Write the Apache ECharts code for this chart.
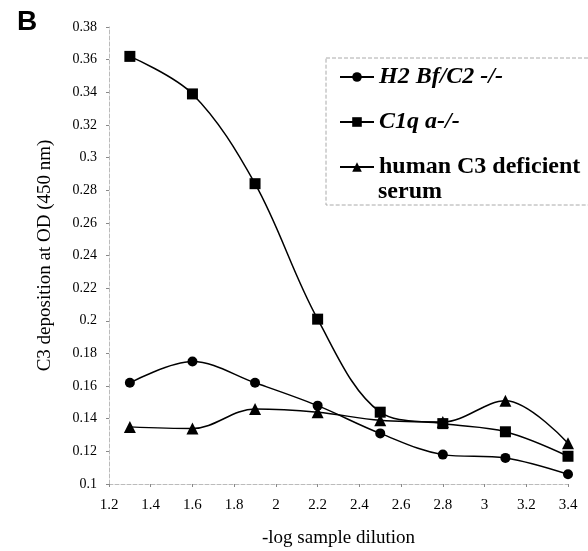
<!DOCTYPE html>
<html><head><meta charset="utf-8">
<script src="https://cdn.jsdelivr.net/npm/echarts@6/dist/echarts.min.js"></script>
<style>html,body{margin:0;padding:0;background:#fff}#c{width:588px;height:551px}</style>
</head><body><div id="c"></div>
<script>
const dilution = [1.3, 1.6, 1.9, 2.2, 2.5, 2.8, 3.1, 3.4];
const h2BfC2 = [0.162, 0.175, 0.162, 0.148, 0.131, 0.118, 0.116, 0.106];
const c1qA = [0.362, 0.339, 0.284, 0.201, 0.144, 0.137, 0.132, 0.117];
const humanC3 = [0.135, 0.134, 0.146, 0.144, 0.139, 0.138, 0.151, 0.125];
const seriesNames = ['H2 Bf/C2 -/-', 'C1q a-/-', 'human C3 deficient serum'];

const serif = '"Liberation Serif", "Times New Roman", serif';
const pts = arr => dilution.map((x, i) => [x, arr[i]]);
const mk = (name, data, symbol, size) => ({
  name, type: 'line', smooth: 0.35, data: pts(data), symbol, symbolSize: size,
  lineStyle: { color: '#000', width: 1.5 }, itemStyle: { color: '#000' }
});

const chart = echarts.init(document.getElementById('c'));
chart.setOption({
  animation: false,
  backgroundColor: '#fff',
  grid: { left: 109, right: 20, top: 27, bottom: 67, containLabel: false, outerBoundsMode: 'none' },
  title: { text: 'B', left: 17, top: 8, padding: 0, textStyle: { fontFamily: '"Liberation Sans", Arial, sans-serif', fontWeight: 'bold', fontSize: 28, color: '#000' } },
  legend: {
    orient: 'vertical', left: 326, top: 58,
    padding: [7, 30, 26, 13], itemGap: 21,
    borderColor: '#aaa', borderWidth: 1, borderType: 'dashed',
    itemWidth: 34, itemHeight: 12,
    data: seriesNames,
    formatter: n => n === seriesNames[2] ? '{b|human C3 deficient}' : '{i|' + n + '}',
    textStyle: {
      color: '#000', fontFamily: serif,
      rich: {
        i: { fontFamily: serif, fontStyle: 'italic', fontWeight: 'bold', fontSize: 24, color: '#000', lineHeight: 26 },
        b: { fontFamily: serif, fontWeight: 'bold', fontSize: 24, color: '#000', lineHeight: 26 }
      }
    }
  },
  graphic: [{
    type: 'text', left: 378, top: 180,
    style: { text: 'serum', font: 'bold 24px ' + serif, fill: '#000' }
  }],
  xAxis: {
    type: 'value', min: 1.2, max: 3.4, interval: 0.2,
    name: '-log sample dilution', nameLocation: 'middle', nameGap: 45,
    nameTextStyle: { fontFamily: serif, fontSize: 19, color: '#000' },
    axisLine: { lineStyle: { color: '#bbb', type: 'dashed' } },
    axisTick: { show: true, inside: false, length: 3, lineStyle: { color: '#888' } },
    splitLine: { show: false },
    axisLabel: { fontFamily: serif, fontSize: 15, color: '#000', margin: 14,
      formatter: v => String(Math.round(v * 10) / 10) }
  },
  yAxis: {
    type: 'value', min: 0.1, max: 0.38, interval: 0.02,
    name: 'C3 deposition at OD (450 nm)', nameLocation: 'middle', nameGap: 54,
    nameTextStyle: { fontFamily: serif, fontSize: 19, color: '#000' },
    axisLine: { show: true, lineStyle: { color: '#bbb', type: 'dashed' } },
    axisTick: { show: true, length: 3, lineStyle: { color: '#888' } },
    splitLine: { show: false },
    axisLabel: { fontFamily: serif, fontSize: 14, color: '#000', margin: 12,
      formatter: v => String(Math.round(v * 100) / 100) }
  },
  series: [
    mk(seriesNames[0], h2BfC2, 'circle', 10),
    mk(seriesNames[1], c1qA, 'rect', 11),
    mk(seriesNames[2], humanC3, 'triangle', 12)
  ]
});
</script></body></html>
